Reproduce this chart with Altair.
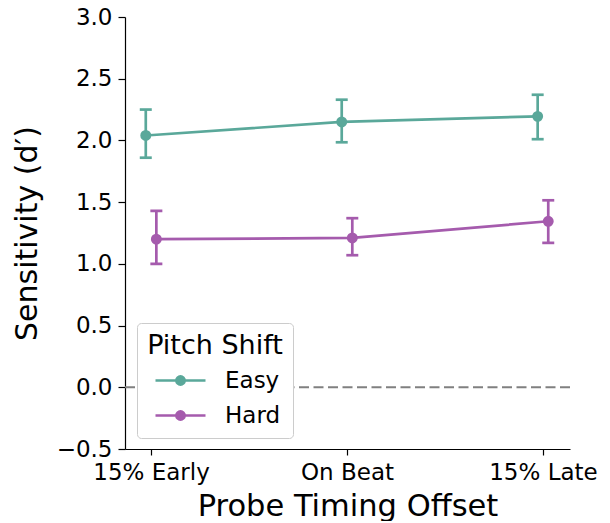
import altair as alt
import pandas as pd

conditions = ["15% Early", "On Beat", "15% Late"]
groups = ["Easy", "Hard"]
easy_mean = [2.04, 2.15, 2.195]
easy_low = [1.86, 1.985, 2.01]
easy_high = [2.25, 2.33, 2.37]
hard_mean = [1.20, 1.21, 1.345]
hard_low = [1.00, 1.07, 1.17]
hard_high = [1.43, 1.37, 1.515]
y_ticks = [-0.5, 0.0, 0.5, 1.0, 1.5, 2.0, 2.5, 3.0]
colors = ["#5aa89a", "#a55bad"]
DODGE = 0.027

rows = []
for g, m, lo, hi in [("Easy", easy_mean, easy_low, easy_high),
                     ("Hard", hard_mean, hard_low, hard_high)]:
    for i, c in enumerate(conditions):
        rows.append(dict(group=g, cond=c, idx=i, mean=m[i], low=lo[i], high=hi[i]))
df = pd.DataFrame(rows)

FONT = "DejaVu Sans"
label_expr = "[" + ",".join(f"'{c}'" for c in conditions) + "][datum.value]"

x = alt.X(
    "xpos:Q",
    scale=alt.Scale(domain=[-0.133, 2.138], nice=False, zero=False),
    axis=alt.Axis(
        values=[0, 1, 2], labelExpr=label_expr, title="Probe Timing Offset",
        grid=False, tickSize=6, labelPadding=6, labelFontSize=23,
        titleFontSize=30.5, titleFontWeight="normal",
        titleBaseline="alphabetic", titleY=66, labelFlush=False,
    ),
)
y_axis = alt.Axis(
    values=y_ticks, format=".1f", title="Sensitivity (d′)", grid=False,
    tickSize=7, labelPadding=6, labelFontSize=23, titleFontSize=30,
    titleFontWeight="normal", titleBaseline="alphabetic", titleX=-89,
    titleY=216, titleAngle=-90, titleAlign="center",
)
yscale = alt.Scale(domain=[-0.5, 3.0], nice=False, zero=False)

path = "M-2.5,0H2.5M-0.42,0A0.42,0.42,0,1,0,0.42,0A0.42,0.42,0,1,0,-0.42,0Z"
legend = alt.Legend(
    title="Pitch Shift", orient="none", legendX=12, legendY=306,
    symbolType=path, symbolSize=400, symbolStrokeWidth=2.5,
    symbolOffset=20, labelOffset=33, symbolOpacity=1,
    titleFontSize=27, titleFontWeight="normal", labelFontSize=23,
    titleColor="black", labelColor="black", titleAnchor="middle",
    strokeColor="#cccccc", fillColor="white", cornerRadius=4,
    padding=10, titlePadding=9, rowPadding=11,
)
cscale = alt.Scale(domain=groups, range=colors)
stroke = alt.Stroke("group:N", scale=cscale, legend=legend)
fill = alt.Fill("group:N", scale=cscale, legend=legend)

base = alt.Chart(df).transform_calculate(
    xpos=f"datum.idx + (datum.group == 'Easy' ? {-DODGE} : {DODGE})"
)

zero = alt.Chart(pd.DataFrame({"z": [0.0]})).mark_rule(
    color="#808080", strokeDash=[10, 4.5], strokeWidth=2
).encode(y=alt.Y("z:Q", scale=yscale, axis=y_axis))

err = base.mark_rule(strokeWidth=2.7).encode(
    x=x, y=alt.Y("low:Q", scale=yscale, axis=y_axis), y2="high:Q", stroke=stroke)
cap_lo = base.mark_tick(orient="horizontal", size=12, thickness=2.7, opacity=1).encode(
    x=x, y=alt.Y("low:Q", scale=yscale, axis=y_axis), fill=fill)
cap_hi = base.mark_tick(orient="horizontal", size=12, thickness=2.7, opacity=1).encode(
    x=x, y=alt.Y("high:Q", scale=yscale, axis=y_axis), fill=fill)
line = base.mark_line(strokeWidth=2.7).encode(
    x=x, y=alt.Y("mean:Q", scale=yscale, axis=y_axis), stroke=stroke, detail="group:N")
pts = base.mark_point(filled=True, size=80, opacity=1, shape="circle").encode(
    x=x, y=alt.Y("mean:Q", scale=yscale, axis=y_axis), fill=fill, stroke=stroke)

chart = alt.layer(zero, err, cap_lo, cap_hi, line, pts).properties(
    width=445, height=432,
    autosize=alt.AutoSizeParams(type="none"),
    padding={"left": 117, "top": 9, "right": 30, "bottom": 72},
).configure(font=FONT).configure_view(stroke=None).configure_axis(
    domainColor="black", tickColor="black", labelColor="black", titleColor="black",
    domainWidth=1.2, tickWidth=1.2, labelFont=FONT, titleFont=FONT,
).configure_legend(labelFont=FONT, titleFont=FONT)

chart.save("out.html", embed_options={"renderer": "svg", "actions": False})
